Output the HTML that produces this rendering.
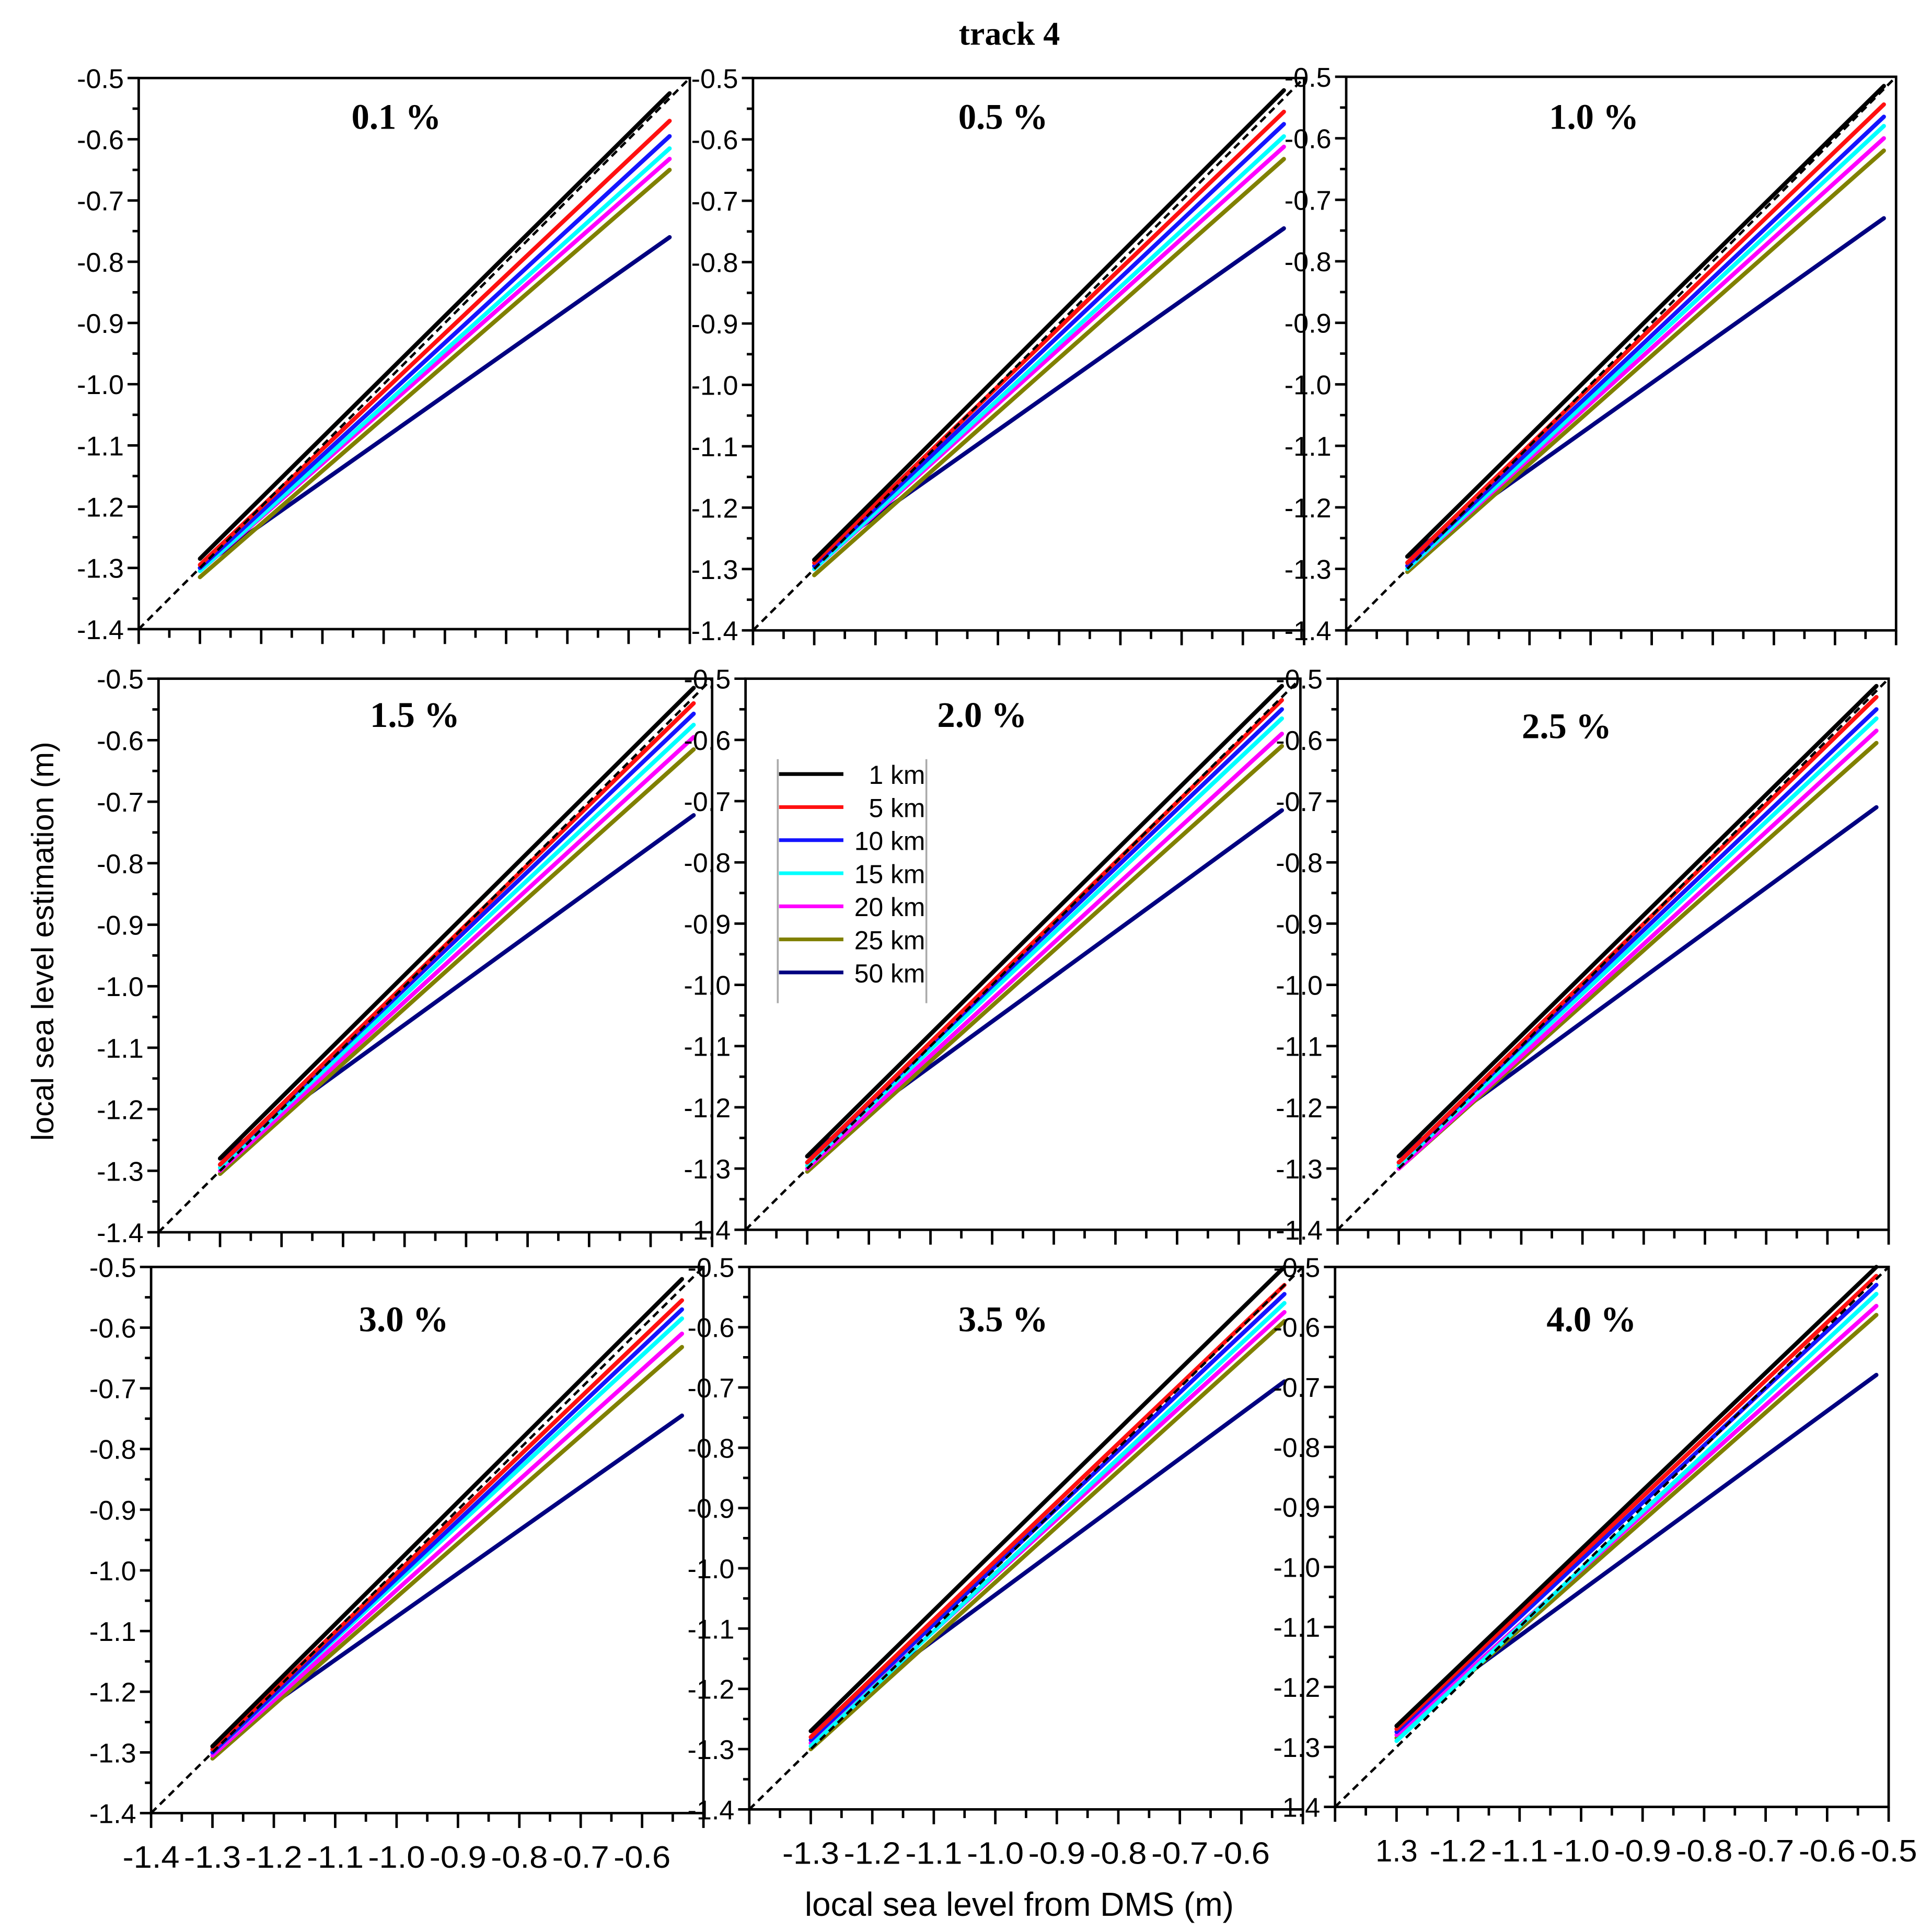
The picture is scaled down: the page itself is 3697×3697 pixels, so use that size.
<!DOCTYPE html>
<html><head><meta charset="utf-8">
<style>
html,body{margin:0;padding:0;background:#fff;}
svg{display:block;font-family:"Liberation Sans",sans-serif;}
.serif{font-family:"Liberation Serif",serif;}
</style></head>
<body>
<svg id="fig" width="3697" height="3697" viewBox="0 0 1560 1560" xmlns="http://www.w3.org/2000/svg">
<text class="serif" x="815" y="36" text-anchor="middle" font-weight="bold" font-size="27">track 4</text>
<text transform="translate(43,760) rotate(-90)" text-anchor="middle" font-size="25">local sea level estimation (m)</text>
<text x="823" y="1547" text-anchor="middle" font-size="27">local sea level from DMS (m)</text>
</svg>
<script>
const series = ["1 km","5 km","10 km","15 km","20 km","25 km","50 km"];
const colors = ["#000000","#ff1010","#1414ff","#00ffff","#ff00ff","#808000","#000080"];
const panelTitles = ["0.1 %","0.5 %","1.0 %","1.5 %","2.0 %","2.5 %","3.0 %","3.5 %","4.0 %"];
const xStart = [-1.3,-1.3,-1.3,-1.3,-1.3,-1.3,-1.3,-1.3,-1.3];
const xEnd = [-0.533,-0.533,-0.52,-0.53,-0.53,-0.52,-0.535,-0.53,-0.52];
const leftVals = [
 [-1.285,-1.295,-1.30,-1.305,-1.305,-1.315,-1.30],
 [-1.285,-1.29,-1.295,-1.30,-1.30,-1.31,-1.285],
 [-1.28,-1.29,-1.295,-1.30,-1.30,-1.305,-1.28],
 [-1.28,-1.29,-1.29,-1.295,-1.30,-1.305,-1.28],
 [-1.28,-1.29,-1.29,-1.295,-1.30,-1.305,-1.28],
 [-1.28,-1.29,-1.29,-1.295,-1.30,-1.30,-1.28],
 [-1.29,-1.295,-1.30,-1.30,-1.305,-1.31,-1.29],
 [-1.27,-1.28,-1.285,-1.295,-1.29,-1.30,-1.27],
 [-1.265,-1.27,-1.275,-1.29,-1.28,-1.285,-1.265]
];
const rightVals = [
 [-0.525,-0.57,-0.595,-0.615,-0.632,-0.65,-0.76],
 [-0.52,-0.555,-0.575,-0.595,-0.612,-0.632,-0.745],
 [-0.515,-0.545,-0.565,-0.58,-0.60,-0.62,-0.73],
 [-0.515,-0.54,-0.557,-0.575,-0.595,-0.615,-0.722],
 [-0.512,-0.535,-0.55,-0.565,-0.59,-0.61,-0.715],
 [-0.512,-0.53,-0.55,-0.565,-0.585,-0.605,-0.71],
 [-0.52,-0.555,-0.57,-0.585,-0.61,-0.632,-0.745],
 [-0.50,-0.53,-0.545,-0.56,-0.575,-0.59,-0.69],
 [-0.50,-0.515,-0.53,-0.545,-0.565,-0.58,-0.68]
];
const yTickLabels = ["-0.5","-0.6","-0.7","-0.8","-0.9","-1.0","-1.1","-1.2","-1.3","-1.4"];
const xTickLabels7 = ["-1.4","-1.3","-1.2","-1.1","-1.0","-0.9","-0.8","-0.7","-0.6"];
const xTickLabels8 = ["-1.3","-1.2","-1.1","-1.0","-0.9","-0.8","-0.7","-0.6"];
const xTickLabels9 = ["1.3","-1.2","-1.1","-1.0","-0.9","-0.8","-0.7","-0.6","-0.5"];

const frames = [
 [112,63,557,508],[608,63,1053,509],[1087,62,1531,509],
 [128,548,575,995],[602,548,1050,993],[1080,548,1525,993],
 [122,1023,568,1464],[605,1023,1052,1461],[1078,1023,1525,1459]
];
const titlePos = [[320,104],[810,104],[1287,104],[335,587],[793,587],[1265,596],[326,1075],[810,1075],[1285,1075]];

const NS="http://www.w3.org/2000/svg";
const svg=document.getElementById('fig');
function mk(tag,attrs,parent){const e=document.createElementNS(NS,tag);for(const k in attrs)e.setAttribute(k,attrs[k]);(parent||svg).appendChild(e);return e;}
const VMIN=-1.4,VMAX=-0.5;

frames.forEach((f,p)=>{
  const [L,T,R,B]=f;
  const g=mk('g',{});
  
  
  const sx=v=>L+(v-VMIN)/(VMAX-VMIN)*(R-L);
  const sy=v=>B-(v-VMIN)/(VMAX-VMIN)*(B-T);
  for(let s=series.length-1;s>=0;s--){
    const ln=mk('line',{x1:sx(xStart[p]),y1:sy(leftVals[p][s]),x2:sx(xEnd[p]),y2:sy(rightVals[p][s]),stroke:colors[s],'stroke-width':3.4,'stroke-linecap':'round'},g);
    
    
  }
  const d2=mk('line',{x1:sx(VMIN),y1:sy(VMIN),x2:sx(VMAX),y2:sy(VMAX),stroke:'#000','stroke-width':2,'stroke-dasharray':'6,4'},g);
  
  
  const fr=mk('rect',{x:L,y:T,width:R-L,height:B-T,fill:'none',stroke:'#000','stroke-width':2},g);
  
  
  for(let i=0;i<=18;i++){
    const v=VMAX-i*0.05, y=sy(v), major=i%2===0;
    mk('line',{x1:L-(major?9:5),y1:y,x2:L,y2:y,stroke:'#000','stroke-width':2},g);
    if(major){
      const t=mk('text',{x:L-12,y:y+8,'text-anchor':'end','font-size':22},g);
      
      
      t.textContent=yTickLabels[i/2];
    }
  }
  for(let i=0;i<=18;i++){
    const v=VMIN+i*0.05, x=sx(v), major=i%2===0;
    mk('line',{x1:x,y1:B,x2:x,y2:B+(major?12:7),stroke:'#000','stroke-width':2},g);
  }
  if(p>=6){
    const labs=p===6?xTickLabels7:(p===7?xTickLabels8:xTickLabels9);
    const start=p===6?-1.4:-1.3;
    labs.forEach((lab,k)=>{
      const t=mk('text',{x:sx(start+k*0.1),y:B+44,'text-anchor':'middle','font-size':25,textLength:lab.length>3?46:34,lengthAdjust:'spacingAndGlyphs'},g);
      
      
      t.textContent=lab;
    });
  }
  const tt=mk('text',{x:titlePos[p][0],y:titlePos[p][1],'text-anchor':'middle','font-size':29,'font-weight':'bold',class:'serif'},g);
  
  
  tt.textContent=panelTitles[p];
});

const lg=mk('g',{});


mk('line',{x1:628,y1:613,x2:628,y2:810,stroke:'#aaa','stroke-width':1.5},lg);
mk('line',{x1:748,y1:613,x2:748,y2:810,stroke:'#aaa','stroke-width':1.5},lg);
series.forEach((s,i)=>{
  const y=625+i*26.7;
  const e=mk('g',{},lg);
  
  
  mk('line',{x1:629,y1:y,x2:681,y2:y,stroke:colors[i],'stroke-width':3},e);
  const t=mk('text',{x:747,y:y+8,'text-anchor':'end','font-size':21},e);
  t.textContent=s;
});
</script>
</body></html>
